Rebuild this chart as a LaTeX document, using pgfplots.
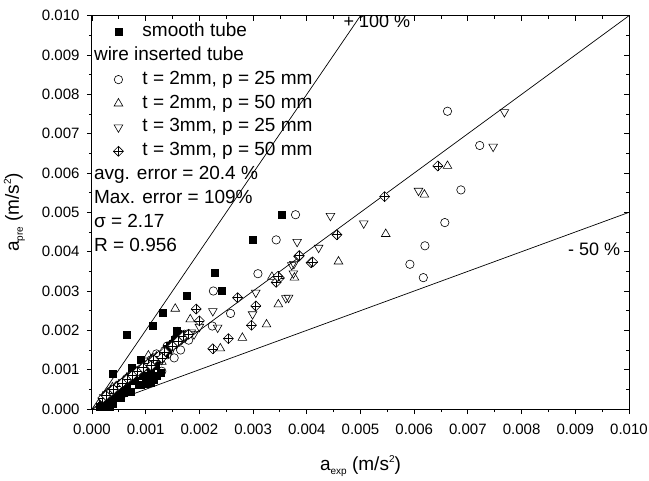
\documentclass[border=0pt]{standalone}
\usepackage{pgfplots}
\pgfplotsset{compat=1.18}
\usepackage{fontspec}
\setmainfont{Liberation Sans}

\pgfdeclareplotmark{diamondplus}{%
  \pgfpathmoveto{\pgfqpoint{0pt}{\pgfplotmarksize}}%
  \pgfpathlineto{\pgfqpoint{\pgfplotmarksize}{0pt}}%
  \pgfpathlineto{\pgfqpoint{0pt}{-\pgfplotmarksize}}%
  \pgfpathlineto{\pgfqpoint{-\pgfplotmarksize}{0pt}}%
  \pgfpathclose
  \pgfusepathqfillstroke
  \pgfpathmoveto{\pgfqpoint{0pt}{\pgfplotmarksize}}%
  \pgfpathlineto{\pgfqpoint{0pt}{-\pgfplotmarksize}}%
  \pgfpathmoveto{\pgfqpoint{-\pgfplotmarksize}{0pt}}%
  \pgfpathlineto{\pgfqpoint{\pgfplotmarksize}{0pt}}%
  \pgfusepathqstroke
}

\begin{document}
\begin{tikzpicture}
\useasboundingbox (0pt,0pt) rectangle (649pt,-481pt);
\pgfplotsset{
  common/.style={
    at={(92pt,-409pt)}, anchor=south west,
    scale only axis, width=537pt, height=393.3pt,
    xmin=0, xmax=0.010, ymin=0, ymax=0.010,
    xtick={0,0.001,0.002,0.003,0.004,0.005,0.006,0.007,0.008,0.009,0.010},
    ytick={0,0.001,0.002,0.003,0.004,0.005,0.006,0.007,0.008,0.009,0.010},
    minor tick num=1,
    major tick length=5pt, minor tick length=3pt,
    scaled ticks=false,
    every tick/.style={black, line width=0.9pt},
    axis line style={line width=1pt},
  }
}
\begin{axis}[common,
  tick align=inside, xtick pos=right, ytick pos=right,
  xticklabels={}, yticklabels={}, axis line style={draw=none}]
\end{axis}
\begin{axis}[common,
  tick align=outside, xtick pos=left, ytick pos=left,
  tick label style={font=\fontsize{15}{18}\selectfont},
  xticklabel style={yshift=-6pt, /pgf/number format/.cd, fixed, fixed zerofill, precision=3, assume math mode=true},
  yticklabel style={xshift=-4pt, /pgf/number format/.cd, fixed, fixed zerofill, precision=3, assume math mode=true},
  xlabel={a\raisebox{-4pt}{\fontsize{10}{10}\selectfont exp} (m/s\raisebox{8pt}{\fontsize{10}{10}\selectfont 2})},
  ylabel={a\raisebox{-4pt}{\fontsize{10}{10}\selectfont pre} (m/s\raisebox{8pt}{\fontsize{10}{10}\selectfont 2})},
  label style={font=\fontsize{19}{22}\selectfont},
  xlabel style={yshift=-14pt},
  ylabel style={yshift=10pt},
  legend cell align=left,
  legend style={at={(axis cs:0.00033,0.0099)}, anchor=north west,
    draw=none, fill=none, inner sep=0pt, row sep=0pt, column sep=17pt,
    font=\fontsize{19}{23}\selectfont,
    nodes={inner xsep=2pt, inner ysep=0pt, text height=16.5pt, text depth=7.4pt}},
]
% reference lines
\addplot[black, line width=0.7pt, forget plot] coordinates {(0,0) (0.005,0.010)};
\addplot[black, line width=0.7pt, forget plot] coordinates {(0,0) (0.010,0.010)};
\addplot[black, line width=0.7pt, forget plot] coordinates {(0,0) (0.010,0.005)};

% smooth tube
\addplot[only marks, mark=square*, mark size=3.6pt, mark options={fill=black, draw=black}] coordinates {
(0.00353,0.00494) (0.00299,0.00430) (0.00228,0.00346) (0.00241,0.00300)
(0.00177,0.00288) (0.00131,0.00245) (0.00113,0.00211) (0.00064,0.00188)
(0.00039,0.00090) (0.00158,0.00198) (0.00160,0.00192) (0.00140,0.00152)
(0.00128,0.00092) (0.00120,0.00084) (0.00109,0.00067) (0.00091,0.00062)
(0.00087,0.00061) (0.00071,0.00044) (0.00074,0.00104) (0.00091,0.00126)
(0.00053,0.00028) (0.00052,0.00031) (0.00038,0.00015) (0.00030,0.00022)
(0.00019,0.00007) (0.00025,0.00012) (0.00045,0.00040) (0.00060,0.00052)
(0.00100,0.00080) (0.00150,0.00165) (0.00033,0.00005) (0.00022,0.00018)
(0.00028,0.00028) (0.00035,0.00032) (0.00042,0.00035) (0.00048,0.00045)
(0.00058,0.00042) (0.00065,0.00058) (0.00080,0.00072) (0.00095,0.00085)
(0.00110,0.00095) (0.00118,0.00110) (0.00135,0.00140) (0.00145,0.00160)
(0.00155,0.00175) (0.00100,0.00065) (0.00115,0.00075) (0.00020,0.00012)
(0.00015,0.00005)
};
\addlegendentry{smooth tube}
\addlegendimage{empty legend}
\addlegendentry{\hspace*{-48.4pt}wire inserted tube}

% t=2, p=25
\addplot[only marks, mark=o, mark size=4.2pt, mark options={fill=white, draw=black, line width=0.6pt}] coordinates {
(0.00662,0.00757) (0.00722,0.00670) (0.00687,0.00557) (0.00657,0.00474)
(0.00620,0.00415) (0.00592,0.00368) (0.00617,0.00334) (0.00379,0.00494)
(0.00343,0.00430) (0.00309,0.00344) (0.00226,0.00300) (0.00258,0.00243)
(0.00224,0.00211) (0.00175,0.00188) (0.00168,0.00178) (0.00153,0.00130)
(0.00130,0.00096) (0.00145,0.00150) (0.00120,0.00140) (0.00110,0.00125)
(0.00095,0.00105) (0.00080,0.00095) (0.00070,0.00083) (0.00060,0.00070)
(0.00050,0.00058) (0.00040,0.00050) (0.00030,0.00038) (0.00025,0.00030)
(0.00180,0.00175) (0.00162,0.00172) (0.00140,0.00160)
(0.00035,0.00045) (0.00045,0.00052) (0.00055,0.00064) (0.00065,0.00078)
(0.00075,0.00088) (0.00085,0.00098) (0.00100,0.00112) (0.00105,0.00108)
(0.00115,0.00130) (0.00125,0.00135) (0.00135,0.00148) (0.00150,0.00162)
(0.00158,0.00185) (0.00172,0.00190) (0.00120,0.00118) (0.00100,0.00090)
(0.00140,0.00138) (0.00165,0.00150) (0.00020,0.00025) (0.00028,0.00033)
};
\addlegendentry{t = 2mm, p = 25 mm}

% t=2, p=50
\addplot[only marks, mark=triangle, mark size=5pt, mark options={fill=white, draw=black, line width=0.6pt}] coordinates {
(0.00662,0.00618) (0.00619,0.00545) (0.00547,0.00445) (0.00459,0.00375)
(0.00377,0.00334) (0.00347,0.00266) (0.00325,0.00215) (0.00280,0.00181)
(0.00239,0.00154) (0.00155,0.00255) (0.00183,0.00228) (0.00105,0.00136)
(0.00335,0.00336) (0.00160,0.00195) (0.00130,0.00120) (0.00115,0.00110)
(0.00090,0.00098) (0.00075,0.00088) (0.00060,0.00072) (0.00045,0.00058)
(0.00030,0.00042) (0.00020,0.00030) (0.00038,0.00055)
(0.00025,0.00035) (0.00035,0.00048) (0.00050,0.00062) (0.00065,0.00080)
(0.00080,0.00093) (0.00095,0.00108) (0.00110,0.00125) (0.00120,0.00133)
(0.00140,0.00150) (0.00150,0.00170) (0.00170,0.00185) (0.00100,0.00100)
(0.00085,0.00085) (0.00070,0.00075)
};
\addlegendentry{t = 2mm, p = 50 mm}

% t=3, p=25
\addplot[only marks, mark=triangle, mark size=5pt, mark options={rotate=180, fill=white, draw=black, line width=0.6pt}] coordinates {
(0.00768,0.00755) (0.00747,0.00667) (0.00608,0.00555) (0.00506,0.00472)
(0.00444,0.00491) (0.00422,0.00410) (0.00382,0.00425) (0.00372,0.00366)
(0.00375,0.00345) (0.00361,0.00282) (0.00376,0.00369) (0.00366,0.00283)
(0.00305,0.00296) (0.00299,0.00241) (0.00225,0.00249) (0.00234,0.00207)
(0.00200,0.00209) (0.00185,0.00195) (0.00170,0.00190) (0.00150,0.00165)
(0.00135,0.00140) (0.00115,0.00120) (0.00095,0.00105) (0.00080,0.00090)
(0.00065,0.00075) (0.00050,0.00060) (0.00035,0.00045) (0.00022,0.00030)
(0.00028,0.00038) (0.00042,0.00052) (0.00058,0.00068) (0.00072,0.00082)
(0.00088,0.00098) (0.00102,0.00112) (0.00125,0.00132) (0.00142,0.00155)
(0.00160,0.00178) (0.00110,0.00105) (0.00130,0.00125) (0.00175,0.00185)
(0.00190,0.00190)
};
\addlegendentry{t = 3mm, p = 25 mm}

% t=3, p=50
\addplot[only marks, mark=diamondplus, mark size=5pt, mark options={fill=white, draw=black, line width=0.6pt}] coordinates {
(0.00644,0.00618) (0.00545,0.00540) (0.00456,0.00443) (0.00385,0.00388)
(0.00408,0.00372) (0.00349,0.00333) (0.00343,0.00322) (0.00346,0.00337)
(0.00386,0.00390) (0.00411,0.00374) (0.00194,0.00254) (0.00200,0.00224)
(0.00271,0.00283) (0.00305,0.00262) (0.00297,0.00213) (0.00254,0.00179)
(0.00225,0.00153) (0.00170,0.00185) (0.00150,0.00160) (0.00125,0.00135)
(0.00105,0.00115) (0.00085,0.00095) (0.00065,0.00075) (0.00048,0.00058)
(0.00032,0.00040) (0.00020,0.00028)
(0.00026,0.00034) (0.00040,0.00050) (0.00056,0.00066) (0.00075,0.00085)
(0.00095,0.00105) (0.00115,0.00125) (0.00135,0.00145) (0.00160,0.00172)
(0.00180,0.00190) (0.00110,0.00110) (0.00130,0.00130)
};
\addlegendentry{t = 3mm, p = 50 mm}

\addlegendimage{empty legend}
\addlegendentry{\hspace*{-48.4pt}avg. error = 20.4 \%}
\addlegendimage{empty legend}
\addlegendentry{\hspace*{-48.4pt}Max. error = 109\%}
\addlegendimage{empty legend}
\addlegendentry{\hspace*{-48.4pt}σ = 2.17}
\addlegendimage{empty legend}
\addlegendentry{\hspace*{-48.4pt}R = 0.956}

\node[anchor=west, font=\fontsize{18}{21}\selectfont] at (axis cs:0.00462,0.00985) {+ 100 \%};
\node[anchor=west, font=\fontsize{18}{21}\selectfont] at (axis cs:0.00880,0.00405) {- 50 \%};
\end{axis}
\end{tikzpicture}
\end{document}
